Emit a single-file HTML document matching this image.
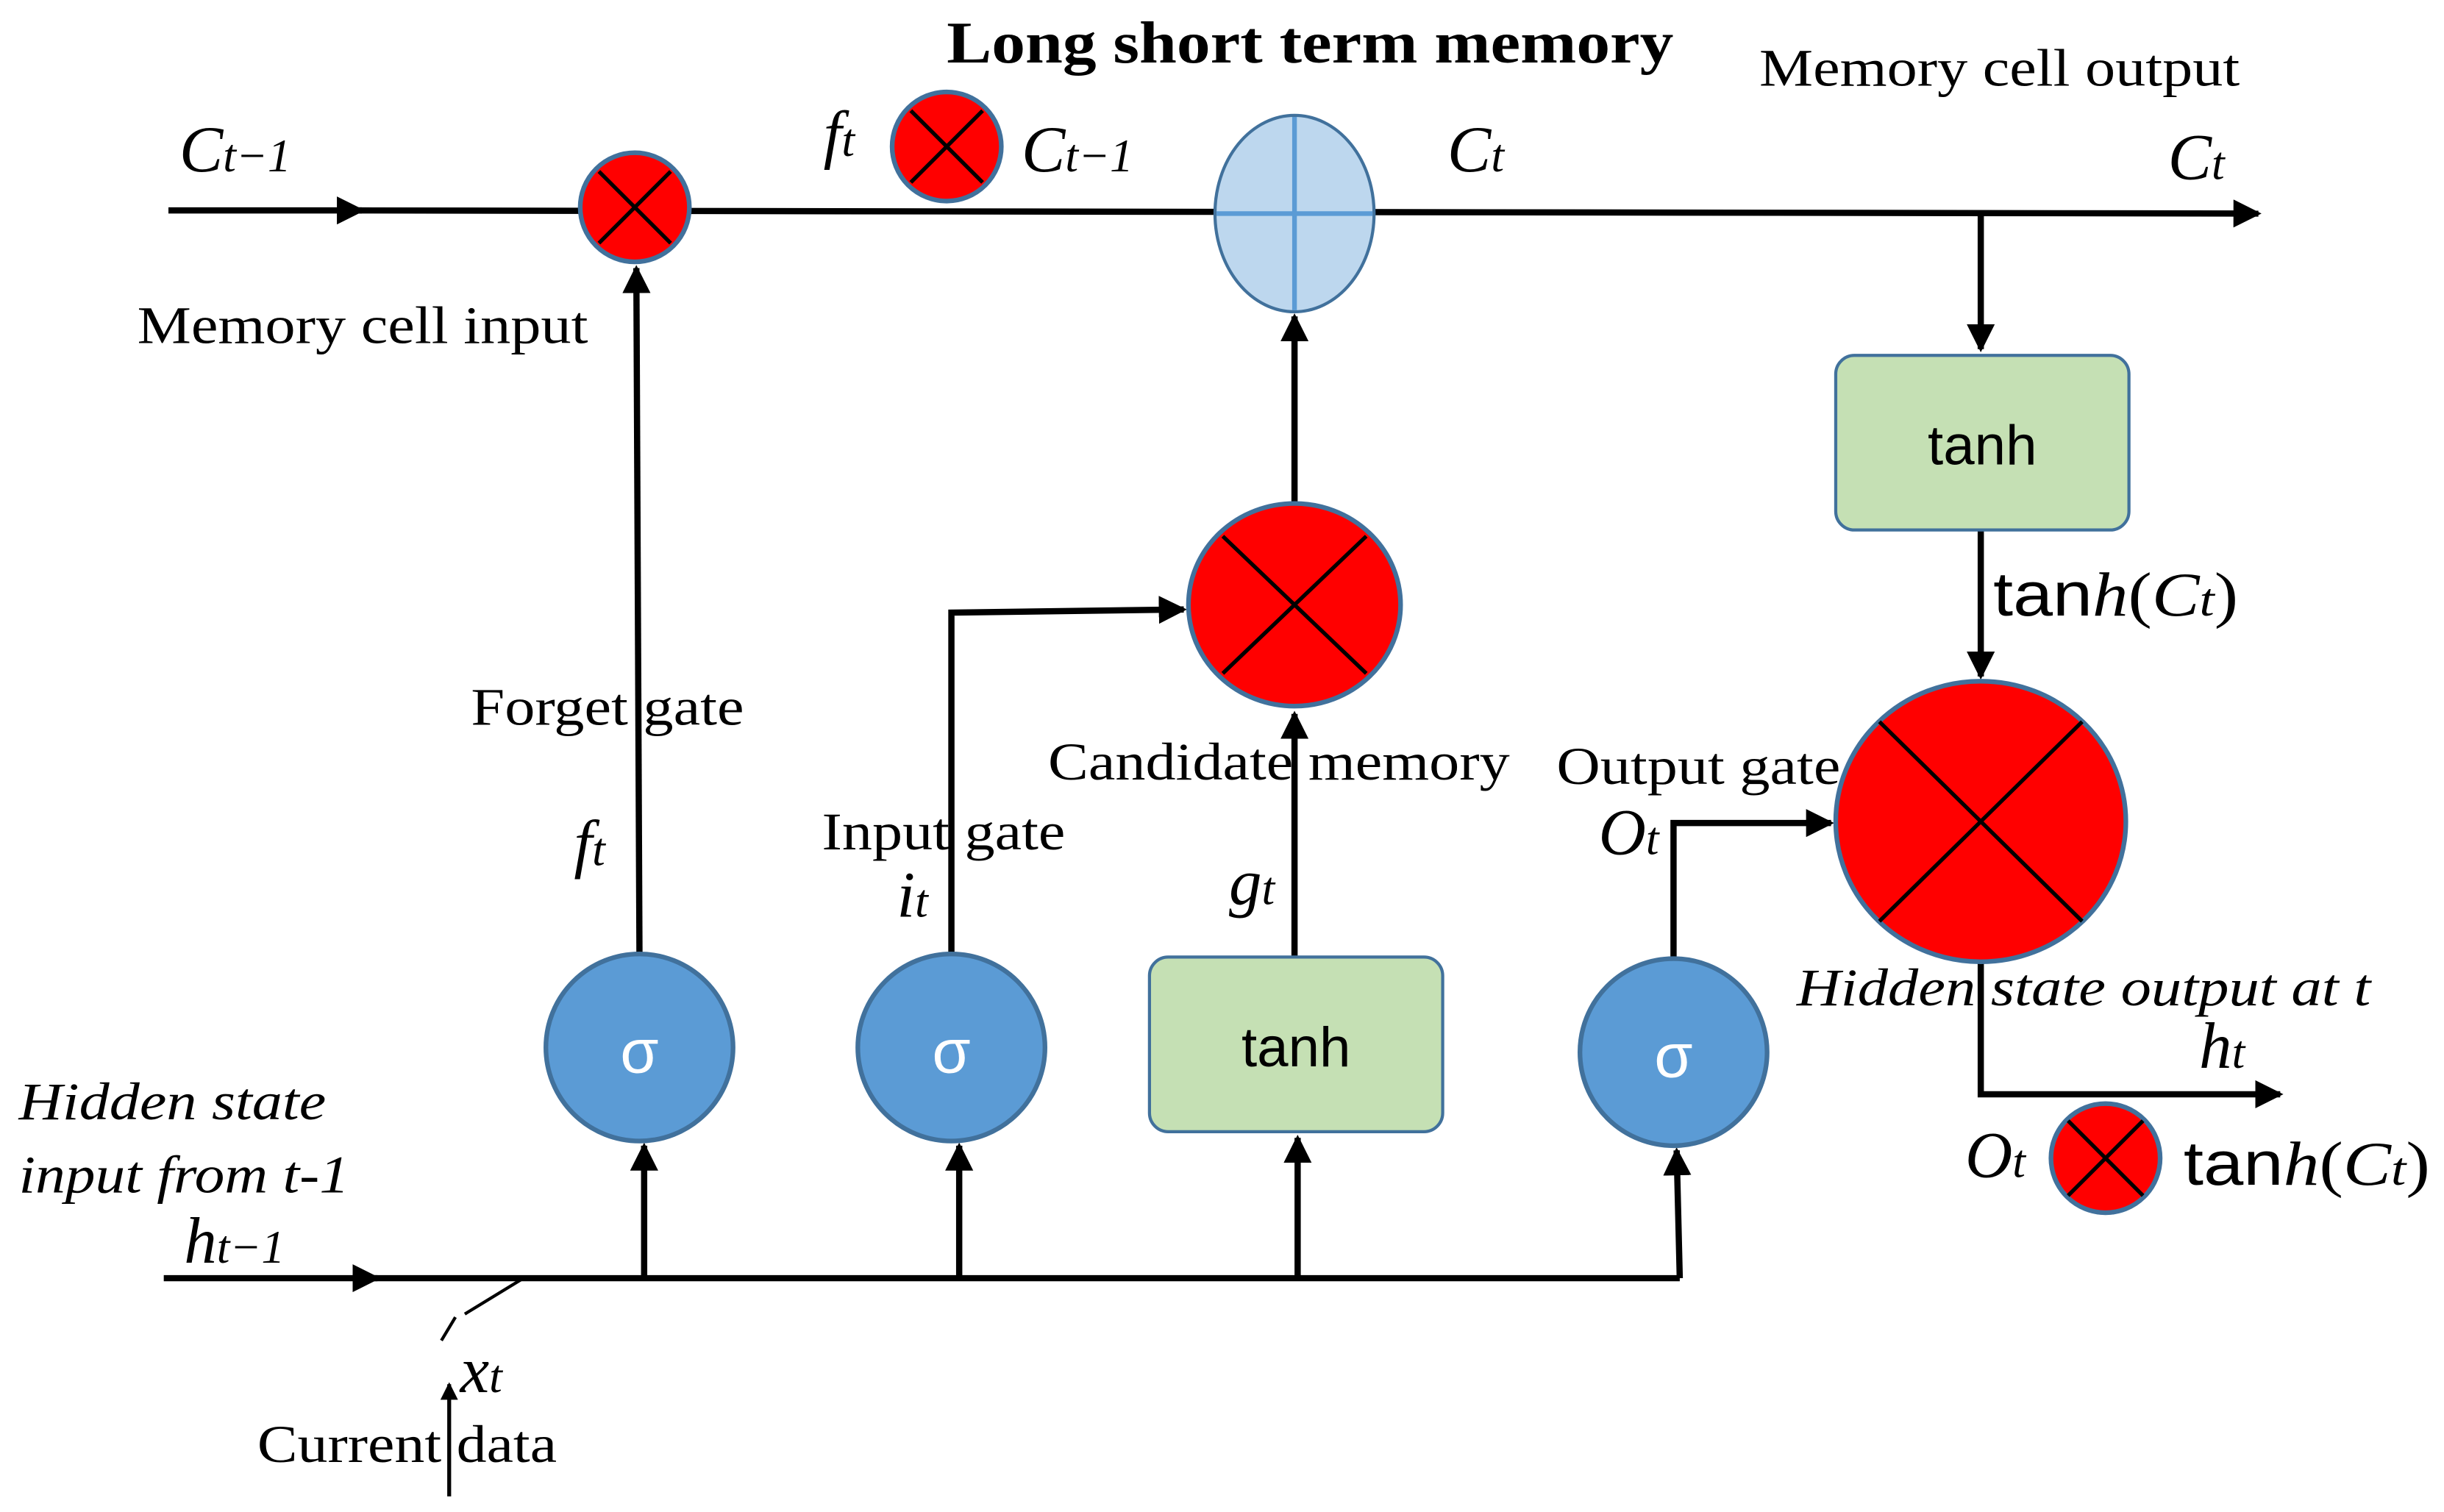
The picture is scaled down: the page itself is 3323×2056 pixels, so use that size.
<!DOCTYPE html>
<html><head><meta charset="utf-8"><style>
html,body{margin:0;padding:0;background:#fff}
svg{display:block}
text{font-family:"Liberation Serif",serif;fill:#000}
.m{font-style:italic;font-size:42px}
.s{font-size:30px;font-style:italic}
.l{font-size:34px}
.t{font-family:"Liberation Sans",sans-serif;font-size:36px}
</style></head><body>
<svg width="3323" height="2056" viewBox="0 0 1567 970" preserveAspectRatio="none" xmlns="http://www.w3.org/2000/svg">
<defs><marker id="a" markerWidth="4.5" markerHeight="4.5" refX="4" refY="2.25" orient="auto" markerUnits="strokeWidth"><path d="M0,0 L4.5,2.25 L0,4.5 Z" fill="#000"/></marker></defs>
<g stroke="#000" stroke-width="4" fill="none">
<line x1="108" y1="135" x2="232" y2="135" marker-end="url(#a)"/>
<line x1="228" y1="135" x2="1448" y2="137" marker-end="url(#a)"/>
<line x1="410" y1="612" x2="408" y2="172" marker-end="url(#a)"/>
<polyline points="610,612 610,393 759,391" marker-end="url(#a)"/>
<line x1="830" y1="614" x2="830" y2="458" marker-end="url(#a)"/>
<line x1="830" y1="323" x2="830" y2="203" marker-end="url(#a)"/>
<line x1="1270" y1="137" x2="1270" y2="224" marker-end="url(#a)"/>
<line x1="1270" y1="340" x2="1270" y2="434" marker-end="url(#a)"/>
<polyline points="1073,615 1073,528 1174,528" marker-end="url(#a)"/>
<polyline points="1270,617 1270,702 1462,702" marker-end="url(#a)"/>
<line x1="105" y1="820" x2="242" y2="820" marker-end="url(#a)"/>
<line x1="235" y1="820" x2="1077" y2="820"/>
<line x1="413" y1="820" x2="413" y2="735" marker-end="url(#a)"/>
<line x1="615" y1="820" x2="615" y2="735" marker-end="url(#a)"/>
<line x1="832" y1="820" x2="832" y2="730" marker-end="url(#a)"/>
<line x1="1077" y1="820" x2="1075" y2="738" marker-end="url(#a)"/>
<line x1="288" y1="960" x2="288" y2="888" stroke-width="2.5" marker-end="url(#a)"/>
<line x1="298" y1="843" x2="334" y2="821" stroke-width="2"/>
<line x1="283" y1="860" x2="292" y2="845" stroke-width="2"/>
</g>
<g stroke="#41719c" stroke-width="3">
<circle cx="407" cy="133" r="35" fill="#f00"/>
<circle cx="607" cy="94" r="35" fill="#f00"/>
<ellipse cx="830" cy="388" rx="68" ry="65" fill="#f00"/>
<ellipse cx="1270" cy="527" rx="93" ry="90" fill="#f00"/>
<circle cx="1350" cy="743" r="35" fill="#f00"/>
<ellipse cx="830" cy="137" rx="51" ry="63" fill="#bdd7ee" stroke-width="2"/>
<circle cx="410" cy="672" r="60" fill="#5b9bd5"/>
<circle cx="610" cy="672" r="60" fill="#5b9bd5"/>
<circle cx="1073" cy="675" r="60" fill="#5b9bd5"/>
<rect x="737" y="614" width="188" height="112" rx="12" fill="#c5e0b4" stroke-width="2"/>
<rect x="1177" y="228" width="188" height="112" rx="12" fill="#c5e0b4" stroke-width="2"/>
</g>
<g stroke="#000" stroke-width="2.5">
<line x1="384" y1="110" x2="430" y2="156"/><line x1="430" y1="110" x2="384" y2="156"/>
<line x1="584" y1="71" x2="630" y2="117"/><line x1="630" y1="71" x2="584" y2="117"/>
<line x1="784" y1="344" x2="876" y2="432"/><line x1="876" y1="344" x2="784" y2="432"/>
<line x1="1205" y1="463" x2="1335" y2="591"/><line x1="1335" y1="463" x2="1205" y2="591"/>
<line x1="1326" y1="719" x2="1374" y2="767"/><line x1="1374" y1="719" x2="1326" y2="767"/>
</g>
<g stroke="#5b9bd5" stroke-width="3"><line x1="830" y1="75" x2="830" y2="199"/><line x1="780" y1="137" x2="880" y2="137"/></g>
<g text-anchor="middle" font-size="40">
<text x="410" y="688" style="fill:#fff;font-family:'Liberation Sans',sans-serif">σ</text>
<text x="610" y="688" style="fill:#fff;font-family:'Liberation Sans',sans-serif">σ</text>
<text x="1073" y="691" style="fill:#fff;font-family:'Liberation Sans',sans-serif">σ</text>
</g>
<text class="t" x="831" y="684" text-anchor="middle">tanh</text>
<text class="t" x="1271" y="298" text-anchor="middle">tanh</text>
<text x="607" y="40" font-weight="bold" font-size="38" textLength="466" lengthAdjust="spacingAndGlyphs">Long short term memory</text>
<text class="l" x="1128" y="55" textLength="308" lengthAdjust="spacingAndGlyphs">Memory cell output</text>
<text class="l" x="88" y="220" textLength="289" lengthAdjust="spacingAndGlyphs">Memory cell input</text>
<text class="l" x="302" y="465" textLength="175" lengthAdjust="spacingAndGlyphs">Forget gate</text>
<text class="l" x="672" y="500" textLength="296" lengthAdjust="spacingAndGlyphs">Candidate memory</text>
<text class="l" x="998" y="503" textLength="182" lengthAdjust="spacingAndGlyphs">Output gate</text>
<text class="l" x="527" y="545" textLength="156" lengthAdjust="spacingAndGlyphs">Input gate</text>
<text class="l" x="165" y="938" textLength="192" lengthAdjust="spacingAndGlyphs">Current data</text>
<text class="l" x="1152" y="645" font-style="italic" textLength="368" lengthAdjust="spacingAndGlyphs">Hidden state output at t</text>
<text class="l" x="12" y="718" font-style="italic" textLength="197" lengthAdjust="spacingAndGlyphs">Hidden state</text>
<text class="l" x="12" y="765" font-style="italic" textLength="212" lengthAdjust="spacingAndGlyphs">input from t-1</text>
<text class="m" x="115" y="110">C<tspan class="s">t−1</tspan></text>
<text class="m" x="528" y="100">f<tspan class="s">t</tspan></text>
<text class="m" x="655" y="110">C<tspan class="s">t−1</tspan></text>
<text class="m" x="928" y="110">C<tspan class="s">t</tspan></text>
<text class="m" x="1390" y="115">C<tspan class="s">t</tspan></text>
<text class="m" x="368" y="555">f<tspan class="s">t</tspan></text>
<text class="m" x="575" y="588">i<tspan class="s">t</tspan></text>
<text class="m" x="788" y="580">g<tspan class="s">t</tspan></text>
<text class="m" x="1025" y="548">O<tspan class="s">t</tspan></text>
<text class="m" x="1410" y="685">h<tspan class="s">t</tspan></text>
<text class="m" x="1260" y="755">O<tspan class="s">t</tspan></text>
<text class="m" x="118" y="810">h<tspan class="s">t−1</tspan></text>
<text class="m" x="295" y="893">x<tspan class="s">t</tspan></text>
<text x="1278" y="395" font-size="40" textLength="157" lengthAdjust="spacingAndGlyphs"><tspan style="font-family:'Liberation Sans',sans-serif">tan</tspan><tspan font-style="italic">h</tspan>(<tspan font-style="italic">C</tspan><tspan class="s">t</tspan>)</text>
<text x="1400" y="760" font-size="40" textLength="158" lengthAdjust="spacingAndGlyphs"><tspan style="font-family:'Liberation Sans',sans-serif">tan</tspan><tspan font-style="italic">h</tspan>(<tspan font-style="italic">C</tspan><tspan class="s">t</tspan>)</text>
</svg>
</body></html>
